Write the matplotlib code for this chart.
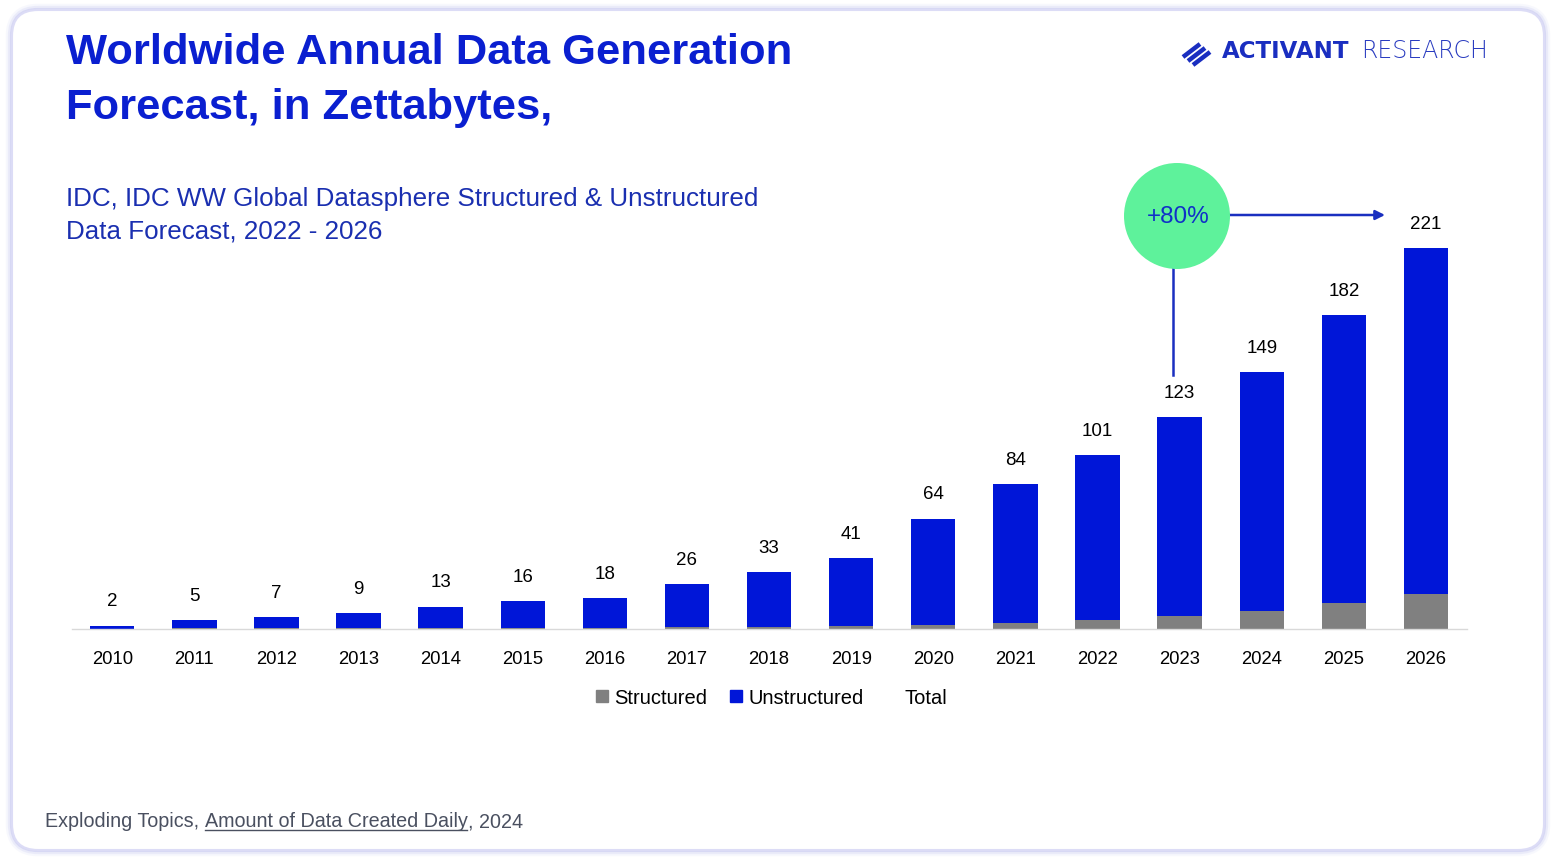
import numpy as np
import matplotlib
matplotlib.use('Agg')
import matplotlib.pyplot as plt
from matplotlib.patches import FancyBboxPatch, Ellipse
from matplotlib.lines import Line2D

# Data (zettabytes)
years = ['2010', '2011', '2012', '2013', '2014', '2015', '2016', '2017', '2018',
         '2019', '2020', '2021', '2022', '2023', '2024', '2025', '2026']
totals = [2, 5, 7, 9, 13, 16, 18, 26, 33, 41, 64, 84, 101, 123, 149, 182, 221]
structured = [0.2, 0.3, 0.4, 0.5, 0.6, 0.7, 0.8, 1.0, 1.3, 1.7, 2.6, 3.6, 5.0, 7.3, 10.5, 15.0, 20.5]
unstructured = [t - s for t, s in zip(totals, structured)]

W, H = 1556, 860
BLUE = '#0016d8'
GRAY = '#808080'
TITLE_BLUE = '#0a1fd0'
SUB_BLUE = '#1a2fb0'
LOGO_BLUE = '#1a2ec0'
FOOT = '#4a5060'

plt.rcParams['font.family'] = ['Liberation Sans', 'DejaVu Sans']

fig = plt.figure(figsize=(W / 100, H / 100), dpi=100)
fig.patch.set_facecolor('white')

# background axes in pixel coordinates
bg = fig.add_axes([0, 0, 1, 1], zorder=0)
bg.set_xlim(0, W)
bg.set_ylim(H, 0)
bg.axis('off')

# card with soft lavender border
for lw, a in [(9, 0.15), (6, 0.3), (3, 0.7)]:
    bg.add_patch(FancyBboxPatch((12, 10), W - 24, H - 20,
                                boxstyle='round,pad=0,rounding_size=26',
                                fc='none', ec='#cfd0f3', lw=lw, alpha=a))
bg.add_patch(FancyBboxPatch((12, 10), W - 24, H - 20,
                            boxstyle='round,pad=0,rounding_size=26',
                            fc='white', ec='#dcdcf6', lw=1.5))

# titles
bg.text(66, 64, 'Worldwide Annual Data Generation', fontsize=31.3, fontweight='bold',
        color=TITLE_BLUE, va='baseline', ha='left')
bg.text(66, 119, 'Forecast, in Zettabytes,', fontsize=31.3, fontweight='bold',
        color=TITLE_BLUE, va='baseline', ha='left')
bg.text(66, 206, 'IDC, IDC WW Global Datasphere Structured & Unstructured',
        fontsize=18.7, color=SUB_BLUE, va='baseline', ha='left')
bg.text(66, 238, 'Data Forecast, 2022 - 2026',
        fontsize=18.7, color=SUB_BLUE, va='baseline', ha='left')

# logo
for i in range(3):
    x0 = 1183 + 5 * i
    y0 = 57 + 4 * i
    bg.plot([x0, x0 + 17], [y0, y0 - 13], color=LOGO_BLUE, lw=3.2,
            solid_capstyle='butt')
bg.text(1222, 58, 'ACTIVANT', fontsize=16.5, fontweight='bold',
        color=LOGO_BLUE, va='baseline', ha='left', family='DejaVu Sans')
bg.text(1361, 58, 'RESEARCH', fontsize=17, fontweight='light',
        color='#2a3cc0', va='baseline', ha='left', family='DejaVu Sans')

# footer
t1 = bg.text(45, 827, 'Exploding Topics, ', fontsize=14.2, color=FOOT,
             va='baseline', ha='left')
t2 = bg.annotate('Amount of Data Created Daily', xy=(1, 0), xycoords=t1,
                 fontsize=14.2, color=FOOT, va='bottom', ha='left')
t3 = bg.annotate(', 2024', xy=(1, 0), xycoords=t2,
                 fontsize=14.2, color=FOOT, va='bottom', ha='left')

# chart axes
ax = fig.add_axes([72 / W, 1 - 629 / H, (1467 - 72) / W, (629 - 150) / H], zorder=1)
ax.patch.set_visible(False)
x = np.arange(len(years))
ax.bar(x, structured, width=0.54, color=GRAY, zorder=2)
ax.bar(x, unstructured, width=0.54, bottom=structured, color=BLUE, zorder=2)
for xi, t in zip(x, totals):
    ax.annotate(str(t), xy=(xi, t), xytext=(0, 11), textcoords='offset points',
                ha='center', va='bottom', fontsize=13.5, color='black')
ax.set_xlim(-0.49, 16.5)
ax.set_ylim(0, 278)
ax.set_xticks(x)
ax.set_xticklabels(years, fontsize=13.3)
ax.tick_params(axis='x', length=0, pad=16)
ax.set_yticks([])
for s in ['top', 'right', 'left']:
    ax.spines[s].set_visible(False)
ax.spines['bottom'].set_color('#d9d9d9')
ax.spines['bottom'].set_linewidth(1)

# legend
handles = [Line2D([], [], marker='s', ls='none', ms=9, color=GRAY),
           Line2D([], [], marker='s', ls='none', ms=9, color=BLUE),
           Line2D([], [], marker='s', ls='none', ms=9, color='none')]
fig.legend(handles, ['Structured', 'Unstructured', 'Total'], loc='center',
           bbox_to_anchor=(771 / W, 1 - 698 / H), ncol=3, frameon=False,
           fontsize=14.5, handlelength=0.7, handletextpad=0.25, columnspacing=1.1)

# +80% annotation
bg.plot([1173, 1173], [262, 375], color='#1a2fc0', lw=1.8, zorder=3)
bg.annotate('', xy=(1385, 215), xytext=(1225, 215),
            arrowprops=dict(arrowstyle='-|>', color='#1a2fc0', lw=1.8,
                            mutation_scale=14, shrinkA=0, shrinkB=0), zorder=3)
bg.add_patch(Ellipse((1177, 216), 106, 106, fc='#5ef29b', ec='none', zorder=4))
bg.text(1178, 217, '+80%', fontsize=17.5, color='#1030c8', ha='center', va='center',
        zorder=5)

# underline for the source link
fig.canvas.draw()
bb = t2.get_window_extent()
inv = bg.transData.inverted()
(ux0, uy0), (ux1, uy1) = inv.transform([(bb.x0, bb.y0), (bb.x1, bb.y0)])
bg.plot([ux0, ux1], [830, 830], color=FOOT, lw=1)

fig.savefig('out.png', dpi=100, facecolor='white')
